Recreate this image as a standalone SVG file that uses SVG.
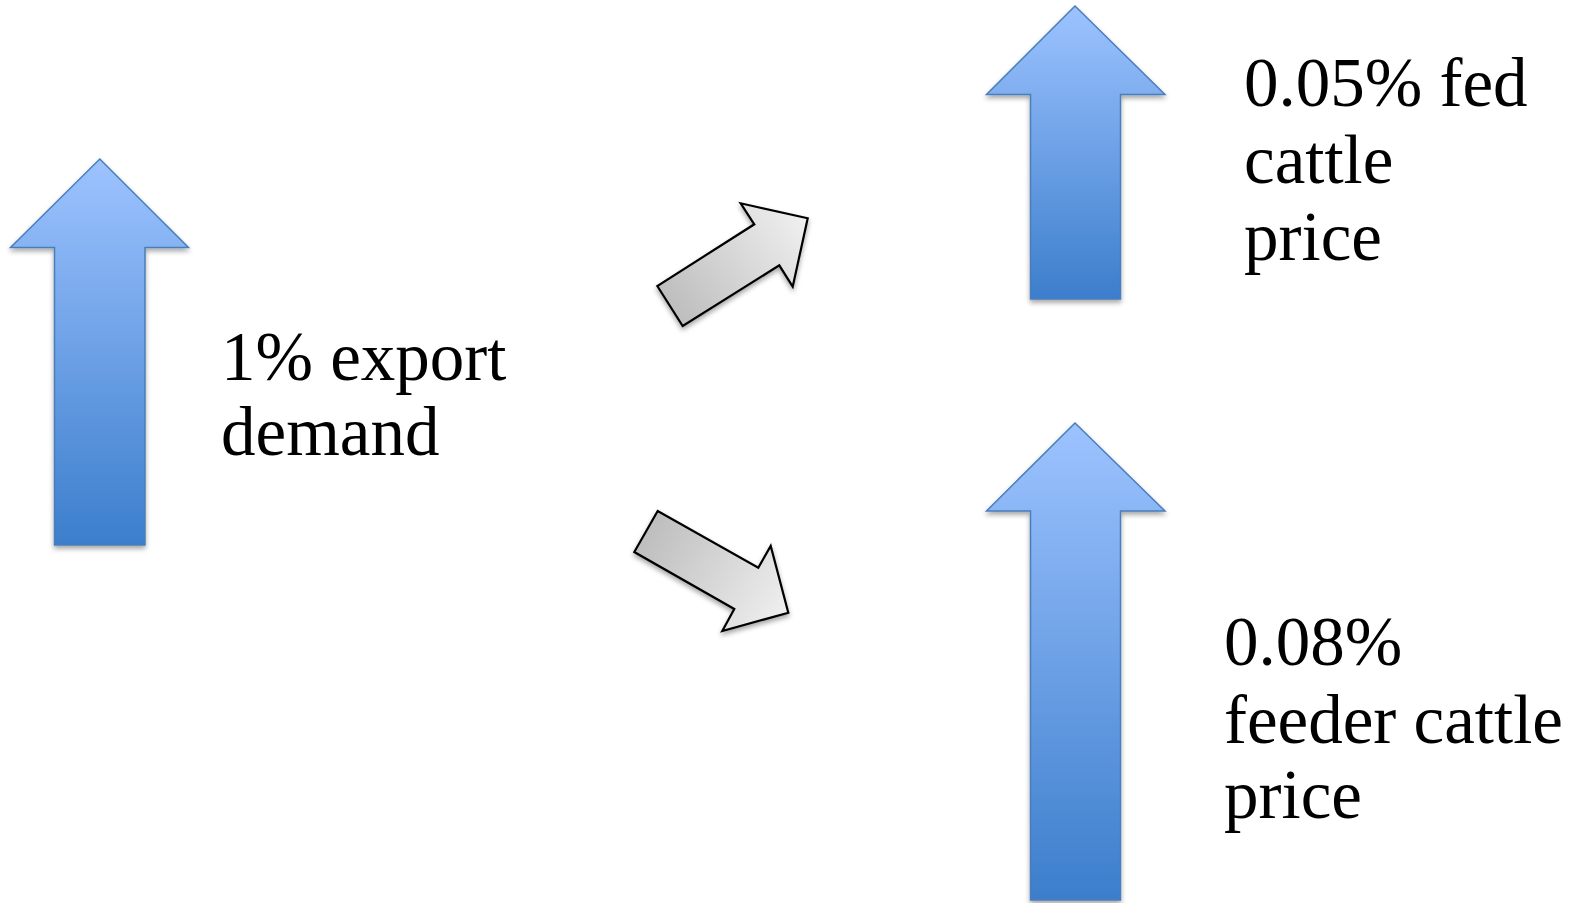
<svg xmlns="http://www.w3.org/2000/svg" width="1580" height="903" viewBox="0 0 1580 903">
<defs>
<linearGradient id="blueL" x1="0" y1="159" x2="0" y2="545" gradientUnits="userSpaceOnUse"><stop offset="0" stop-color="#9dc3ff"/><stop offset="1" stop-color="#3c7ecc"/></linearGradient>
<linearGradient id="blueT" x1="0" y1="6" x2="0" y2="299" gradientUnits="userSpaceOnUse"><stop offset="0" stop-color="#9dc3ff"/><stop offset="1" stop-color="#3c7ecc"/></linearGradient>
<linearGradient id="blueB" x1="0" y1="423" x2="0" y2="900" gradientUnits="userSpaceOnUse"><stop offset="0" stop-color="#9dc3ff"/><stop offset="1" stop-color="#3c7ecc"/></linearGradient>
<linearGradient id="grayU" x1="670" y1="310" x2="800" y2="215" gradientUnits="userSpaceOnUse"><stop offset="0" stop-color="#bdbdbd"/><stop offset="1" stop-color="#efefef"/></linearGradient>
<linearGradient id="grayD" x1="645" y1="530" x2="785" y2="615" gradientUnits="userSpaceOnUse"><stop offset="0" stop-color="#bdbdbd"/><stop offset="1" stop-color="#efefef"/></linearGradient>
<filter id="sh" x="-20%" y="-20%" width="140%" height="140%"><feDropShadow dx="0" dy="3" stdDeviation="2.5" flood-color="#000" flood-opacity="0.35"/></filter>
</defs>
<style>
.blue{stroke:#4a7ebb;stroke-width:1.5;filter:url(#sh)}
.gray{stroke:#000;stroke-width:2.2;stroke-linejoin:miter;filter:url(#sh)}
.lbl{font-family:"Liberation Serif","Times New Roman",serif;font-size:69px;fill:#000}
</style>
<rect width="1580" height="903" fill="#fff"/>
<g id="node-export">
<polygon class="blue" fill="url(#blueL)" points="99.8,159 188.5,247.5 145,247.5 145,545 54.5,545 54.5,247.5 10.5,247.5"/>
<text class="lbl" x="221" y="380">1% export</text>
<text class="lbl" x="221" y="455">demand</text>
</g>
<g id="node-fed">
<polygon class="blue" fill="url(#blueT)" points="1075,6 1165,94.5 1120.5,94.5 1120.5,299 1030.5,299 1030.5,94.5 986.5,94.5"/>
<text class="lbl" x="1244" y="106">0.05% fed</text>
<text class="lbl" x="1244" y="183">cattle</text>
<text class="lbl" x="1244" y="260">price</text>
</g>
<g id="node-feeder">
<polygon class="blue" fill="url(#blueB)" points="1075,423 1165,511 1120.5,511 1120.5,900 1030.5,900 1030.5,511 986.5,511"/>
<text class="lbl" x="1224" y="665">0.08%</text>
<text class="lbl" x="1224" y="743">feeder cattle</text>
<text class="lbl" x="1224" y="818">price</text>
</g>
<g id="connectors">
<polygon class="gray" fill="url(#grayU)" points="657.3,286 682.7,326 779.3,265.3 792.7,286.7 807.7,218.3 740.7,203.3 754.3,224.3"/>
<polygon class="gray" fill="url(#grayD)" points="657.7,511 634.3,552 734.3,609 722.3,631 788.3,612.7 770.7,546 758.3,567.7"/>
</g>
</svg>
